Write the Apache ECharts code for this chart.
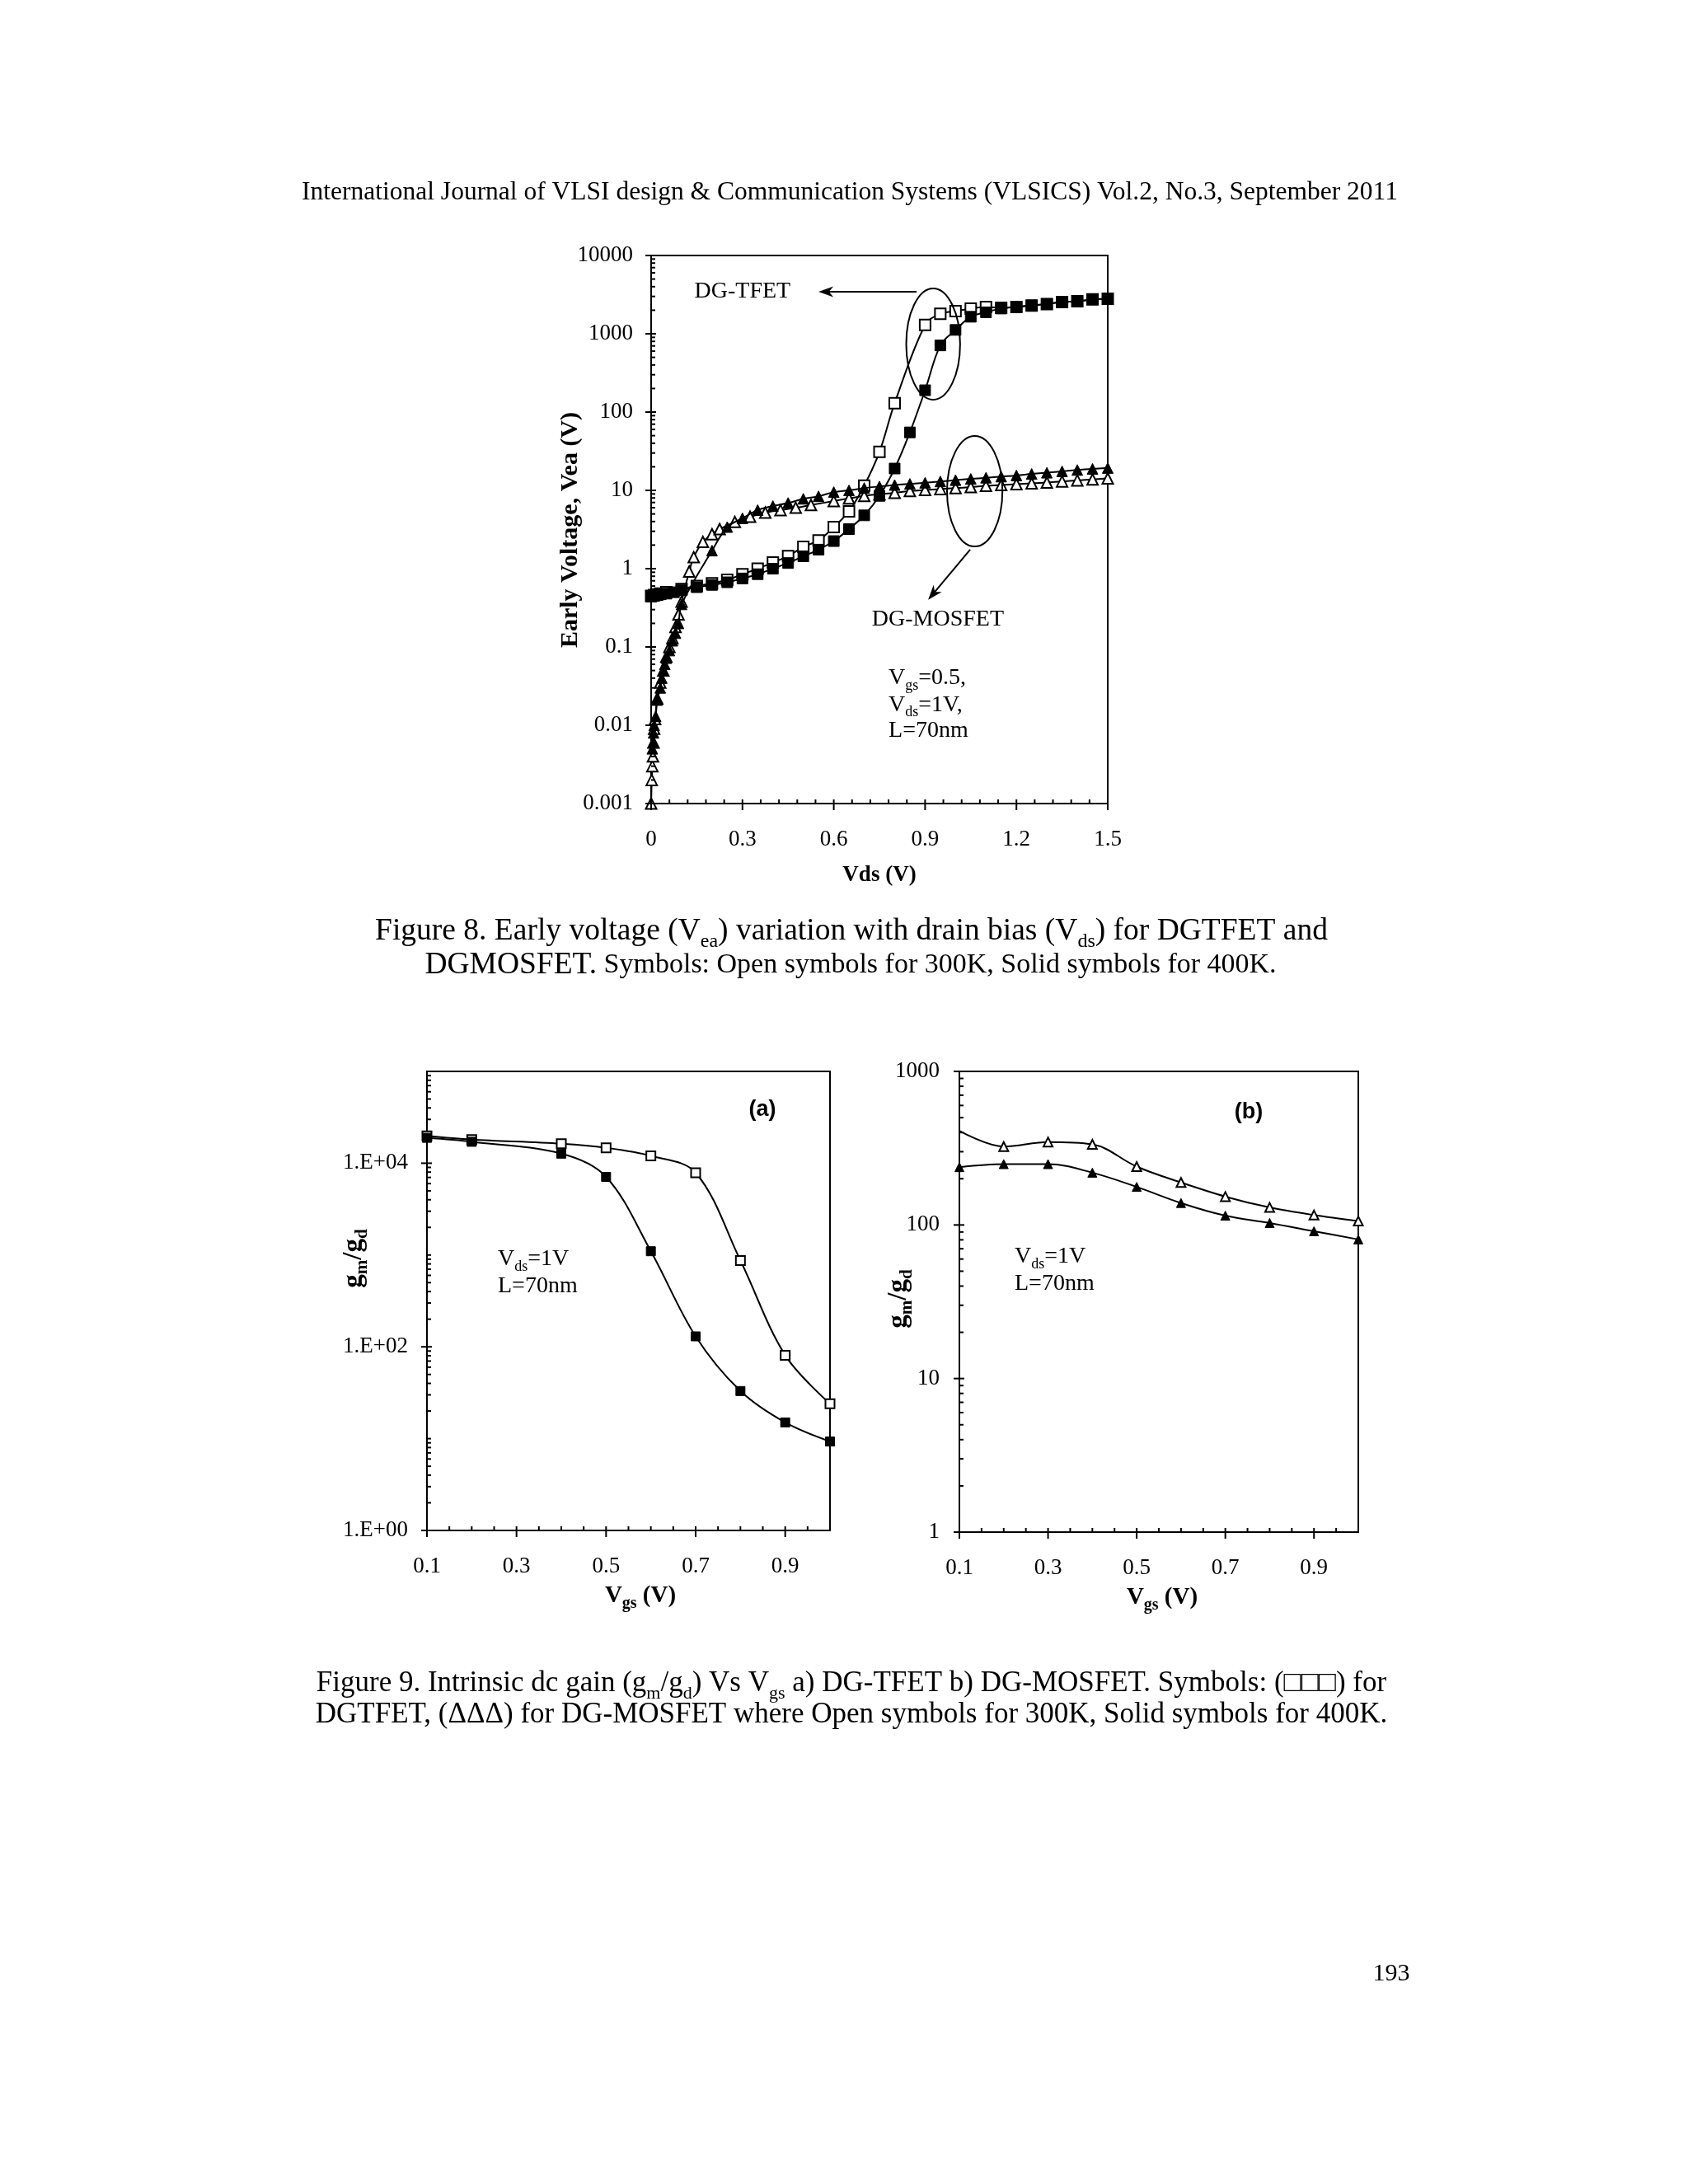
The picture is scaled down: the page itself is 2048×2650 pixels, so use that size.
<!DOCTYPE html>
<html><head><meta charset="utf-8">
<script src="https://cdn.jsdelivr.net/npm/echarts@6/dist/echarts.min.js"></script>
<style>html,body{margin:0;padding:0;background:#fff}#c{width:2048px;height:2650px}</style>
</head><body><div id="c"></div>
<script>
// ---------------- Figure 8 data: [Vds (V), Early voltage Vea (V)] ----------------
const tfet300 = [[0,0.45],[0.01,0.46],[0.02,0.47],[0.03,0.48],[0.05,0.5],[0.1,0.55],[0.15,0.6],[0.2,0.65],[0.25,0.72],[0.3,0.85],[0.35,1.0],[0.4,1.2],[0.45,1.45],[0.5,1.9],[0.55,2.3],[0.6,3.4],[0.65,5.4],[0.7,11.5],[0.75,31],[0.8,130],[0.9,1300],[0.95,1800],[1.0,1950],[1.05,2100],[1.1,2200],[1.15,2150],[1.2,2200],[1.25,2300],[1.3,2400],[1.35,2550],[1.4,2600],[1.45,2750],[1.5,2800]];
const tfet400 = [[0,0.44],[0.01,0.45],[0.02,0.46],[0.03,0.47],[0.05,0.48],[0.075,0.5],[0.1,0.53],[0.15,0.58],[0.2,0.62],[0.25,0.67],[0.3,0.75],[0.35,0.85],[0.4,1.0],[0.45,1.18],[0.5,1.44],[0.55,1.75],[0.6,2.25],[0.65,3.2],[0.7,4.8],[0.75,8.5],[0.8,19],[0.85,55],[0.9,190],[0.95,710],[1.0,1120],[1.05,1650],[1.1,1880],[1.15,2100],[1.2,2200],[1.25,2300],[1.3,2400],[1.35,2550],[1.4,2600],[1.45,2750],[1.5,2800]];
const mos300 = [[0,0.001],[0.002,0.002],[0.004,0.003],[0.006,0.004],[0.008,0.006],[0.01,0.009],[0.013,0.012],[0.02,0.022],[0.03,0.035],[0.04,0.05],[0.05,0.075],[0.06,0.1],[0.07,0.13],[0.08,0.18],[0.09,0.26],[0.1,0.38],[0.125,0.92],[0.14,1.4],[0.17,2.2],[0.2,2.75],[0.225,3.2],[0.275,3.95],[0.325,4.6],[0.375,5.2],[0.425,5.6],[0.475,6.0],[0.525,6.5],[0.6,7.3],[0.65,7.9],[0.7,8.5],[0.75,8.9],[0.8,9.3],[0.85,9.8],[0.9,10.1],[0.95,10.4],[1.0,10.7],[1.05,11.0],[1.1,11.4],[1.15,11.7],[1.2,12.0],[1.25,12.3],[1.3,12.6],[1.35,13.0],[1.4,13.4],[1.45,13.8],[1.5,14.2]];
const mos400 = [[0.004,0.005],[0.006,0.006],[0.008,0.008],[0.01,0.01],[0.015,0.013],[0.02,0.021],[0.03,0.03],[0.035,0.04],[0.04,0.05],[0.045,0.06],[0.05,0.072],[0.06,0.09],[0.07,0.12],[0.08,0.15],[0.09,0.2],[0.1,0.35],[0.2,1.7],[0.25,3.4],[0.3,4.4],[0.35,5.6],[0.4,6.3],[0.45,6.9],[0.5,7.8],[0.55,8.4],[0.6,9.5],[0.65,10],[0.7,10.7],[0.75,11.2],[0.8,11.7],[0.85,12.1],[0.9,12.5],[0.95,13],[1.0,13.5],[1.05,14],[1.1,14.5],[1.15,15],[1.2,15.5],[1.25,16.2],[1.3,16.8],[1.35,17.5],[1.4,18.2],[1.45,18.8],[1.5,19.3]];
const fig8XLabels = ['0','0.3','0.6','0.9','1.2','1.5'];
const fig8YLabels = ['0.001','0.01','0.1','1','10','100','1000','10000'];

// ---------------- Figure 9 data ----------------
const vgsA = [0.1,0.2,0.4,0.5,0.6,0.7,0.8,0.9,1.0];
const gainTfet300 = [19800,18100,16300,14700,12000,7870,870,81,24];
const gainTfet400 = [18900,17100,12700,7100,1100,130,33,15,9.3];
const vgsB = [0.1,0.2,0.3,0.4,0.5,0.6,0.7,0.8,0.9,1.0];
const gainMos300 = [410,324,347,335,240,189,153,130,116,106];
const gainMos400 = [238,249,249,219,177,139,115,103,91,80.5];
const fig9XLabels = ['0.1','0.3','0.5','0.7','0.9'];
const fig9aYLabels = ['1.E+00','','1.E+02','','1.E+04',''];
const fig9bYLabels = ['1','10','100','1000'];

// ---------------- helpers ----------------
const SERIF = 'Liberation Serif';
const SANS = 'Liberation Sans';
const chart = echarts.init(document.getElementById('c'), null, {renderer:'canvas', width:2048, height:2650});

function zip(xs, ys){ return xs.map((x,i)=>[x, ys[i]]); }
function rng(a,b,step){ const o=[]; const n=Math.round((b-a)/step); for(let i=0;i<=n;i++) o.push(+(a+i*step).toFixed(6)); return o; }
function notIn(list, ref){ return list.filter(v=>!ref.some(r=>Math.abs(r-v)<1e-6)); }
function logMinor(e0, e1){ const o=[]; for(let e=e0;e<e1;e++) for(let k=2;k<=9;k++) o.push(+(k*Math.pow(10,e)).toPrecision(6)); return o; }
function pow10(e0,e1){ const o=[]; for(let e=e0;e<=e1;e++) o.push(Math.pow(10,e)); return o; }

const TICK_LEN = [[8,5],[0,5],[7,6],[0,5]]; // [outside, inside] for x-major, x-minor, y-major, y-minor
function tickRender(params, api){
  const p = api.coord([api.value(0), api.value(1)]);
  const k = api.value(2);
  const L = TICK_LEN[k];
  let s;
  if (k < 2) s = {x1:p[0], y1:p[1]+L[0], x2:p[0], y2:p[1]-L[1]};
  else s = {x1:p[0]-L[0], y1:p[1], x2:p[0]+L[1], y2:p[1]};
  return {type:'line', shape:s, style:{stroke:'#000', lineWidth:2}};
}
function tickSeries(g, x0, y0, xMaj, xMin, yMaj, yMin){
  const d = [];
  xMaj.forEach(v=>d.push([v,y0,0]));
  xMin.forEach(v=>d.push([v,y0,1]));
  yMaj.forEach(v=>d.push([x0,v,2]));
  yMin.forEach(v=>d.push([x0,v,3]));
  return {type:'custom', xAxisIndex:g, yAxisIndex:g, data:d, renderItem:tickRender, silent:true, clip:false, z:6, encode:{x:0,y:1}};
}
function lineSeries(g, data, symbol, filled, size, z){
  return {type:'line', xAxisIndex:g, yAxisIndex:g, data, symbol, symbolSize:size, smooth:0.35,
    lineStyle:{color:'#000', width:2},
    itemStyle:{color: filled ? '#000' : '#fff', borderColor:'#000', borderWidth: filled ? 1 : 2},
    z, silent:true, animation:false};
}
const labelStyle = {fontFamily:SERIF, fontSize:27, color:'#000'};
function logLabel(arr, e0){ return v => { const i = Math.round(Math.log10(v)) - e0; return arr[i] !== undefined ? arr[i] : ''; }; }
function xLabel9(v){ const i = Math.round((v-0.1)/0.2); return (v < 0.95 && fig9XLabels[i] !== undefined) ? fig9XLabels[i] : ''; }
function xLabel8(v){ const i = Math.round(v/0.3); return fig8XLabels[i] !== undefined ? fig8XLabels[i] : ''; }

const gridBase = {show:true, borderColor:'#000', borderWidth:2, backgroundColor:'transparent', containLabel:false};
const axLine = {show:true, lineStyle:{color:'#000', width:2}};

const option = {
  backgroundColor:'#fff',
  animation:false,
  grid:[
    Object.assign({left:790, top:310, width:554, height:665}, gridBase),
    Object.assign({left:518, top:1300, width:489, height:557}, gridBase),
    Object.assign({left:1164, top:1300, width:484, height:559}, gridBase)
  ],
  xAxis:[
    {gridIndex:0, type:'value', min:0, max:1.5, interval:0.3, axisLine:axLine, axisTick:{show:false}, splitLine:{show:false},
     axisLabel:Object.assign({margin:30, formatter:xLabel8}, labelStyle)},
    {gridIndex:1, type:'value', min:0.1, max:1.0, interval:0.2, axisLine:axLine, axisTick:{show:false}, splitLine:{show:false},
     axisLabel:Object.assign({margin:30, formatter:xLabel9, showMaxLabel:false}, labelStyle)},
    {gridIndex:2, type:'value', min:0.1, max:1.0, interval:0.2, axisLine:axLine, axisTick:{show:false}, splitLine:{show:false},
     axisLabel:Object.assign({margin:30, formatter:xLabel9, showMaxLabel:false}, labelStyle)}
  ],
  yAxis:[
    {gridIndex:0, type:'log', logBase:10, min:0.001, max:10000, splitNumber:7, axisLine:axLine, axisTick:{show:false}, splitLine:{show:false},
     axisLabel:Object.assign({margin:22, formatter:logLabel(fig8YLabels,-3)}, labelStyle)},
    {gridIndex:1, type:'log', logBase:10, min:1, max:100000, splitNumber:5, axisLine:axLine, axisTick:{show:false}, splitLine:{show:false},
     axisLabel:Object.assign({margin:23, formatter:logLabel(fig9aYLabels,0)}, labelStyle)},
    {gridIndex:2, type:'log', logBase:10, min:1, max:1000, splitNumber:3, axisLine:axLine, axisTick:{show:false}, splitLine:{show:false},
     axisLabel:Object.assign({margin:24, formatter:logLabel(fig9bYLabels,0)}, labelStyle)}
  ],
  series:[
    lineSeries(0, tfet300, 'rect', false, 13, 3),
    lineSeries(0, mos300, 'triangle', false, 13, 3),
    lineSeries(0, tfet400, 'rect', true, 13, 4),
    lineSeries(0, mos400, 'triangle', true, 13, 4),
    lineSeries(1, zip(vgsA, gainTfet300), 'rect', false, 11, 3),
    lineSeries(1, zip(vgsA, gainTfet400), 'rect', true, 11, 4),
    lineSeries(2, zip(vgsB, gainMos300).map((p,i)=> i===0 ? {value:p, symbol:'none'} : p), 'triangle', false, 11, 3),
    lineSeries(2, zip(vgsB, gainMos400), 'triangle', true, 11, 4),
    tickSeries(0, 0, 0.001, rng(0,1.5,0.3), notIn(rng(0,1.5,0.06), rng(0,1.5,0.3)), pow10(-3,4), logMinor(-3,4)),
    tickSeries(1, 0.1, 1, rng(0.1,0.9,0.2), notIn(rng(0.1,1.0,0.05), rng(0.1,0.9,0.2)), [1,100,10000], [10,1000].concat(logMinor(0,5))),
    tickSeries(2, 0.1, 1, rng(0.1,0.9,0.2), notIn(rng(0.1,1.0,0.05), rng(0.1,0.9,0.2)), pow10(0,3), logMinor(0,3))
  ]
};
chart.setOption(option);

// ---------------- text & annotations ----------------
function rich(size, sub, weight, family, mScale){
  family = family || SERIF; weight = weight || 'normal';
  const lh = Math.round(size*1.3);
  return {
    n:{fontSize:size, fontFamily:family, fontWeight:weight, lineHeight:lh, verticalAlign:'middle', fill:'#000'},
    m:{fontSize:Math.round(size*(mScale||0.91)), fontFamily:family, fontWeight:weight, lineHeight:lh, verticalAlign:'middle', fill:'#000'},
    s:{fontSize:sub, fontFamily:family, fontWeight:weight, lineHeight:sub, verticalAlign:'bottom', fill:'#000'}
  };
}
function T(x, y, text, size, sub, opts){
  opts = opts || {};
  return {type:'text', x, y, rotation: opts.rot || 0, z:20, silent:true,
    style:{text, rich:rich(size, sub, opts.weight, opts.family, opts.mScale), align: opts.align || 'center', verticalAlign:'middle', fill:'#000'}};
}
const P = (g, v) => chart.convertToPixel({xAxisIndex:g, yAxisIndex:g}, v);

// annotation anchors in Figure 8 data coordinates
const ell1 = P(0,[0.838,3800]), ell1b = P(0,[1.015,144]);
const ell2 = P(0,[0.972,49.5]), ell2b = P(0,[1.154,1.92]);
const arr1a = P(0,[0.872,3440]), arr1b = P(0,[0.55,3440]);
const arr2a = P(0,[1.048,1.75]), arr2b = P(0,[0.91,0.4]);
const lblTfet = P(0,[0.458,3440]);
const lblMos = P(0,[0.942,0.224]);
const cond1 = P(0,[0.78,0.04]), cond2 = P(0,[0.78,0.018]), cond3 = P(0,[0.78,0.0085]);

function ellipse(a, b){
  return {type:'ellipse', z:15, silent:true, shape:{cx:(a[0]+b[0])/2, cy:(a[1]+b[1])/2, rx:Math.abs(b[0]-a[0])/2, ry:Math.abs(b[1]-a[1])/2},
    style:{fill:'none', stroke:'#000', lineWidth:2}};
}
function arrow(a, b){
  const dx=b[0]-a[0], dy=b[1]-a[1], L=Math.hypot(dx,dy), ux=dx/L, uy=dy/L, px=-uy, py=ux;
  const hl=18, hw=6.5;
  const base=[b[0]-ux*hl, b[1]-uy*hl];
  const notch=[b[0]-ux*hl*0.7, b[1]-uy*hl*0.7];
  return [
    {type:'line', z:15, silent:true, shape:{x1:a[0], y1:a[1], x2:notch[0], y2:notch[1]}, style:{stroke:'#000', lineWidth:2}},
    {type:'polygon', z:15, silent:true, shape:{points:[[b[0],b[1]],[base[0]+px*hw, base[1]+py*hw],[notch[0],notch[1]],[base[0]-px*hw, base[1]-py*hw]]}, style:{fill:'#000'}}
  ];
}

const graphics = [
  T(1031, 234, '{n|International Journal of VLSI design & Communication Systems (VLSICS) Vol.2, No.3, September 2011}', 31.5, 20),
  // Figure 8 axis titles
  T(692, 643, '{n|Early Voltage, Vea (V)}', 30, 20, {weight:'bold', rot:Math.PI/2}),
  T(1067, 1062, '{n|Vds (V)}', 27, 18, {weight:'bold'}),
  // Figure 8 annotations
  ellipse(ell1, ell1b), ellipse(ell2, ell2b),
  ...arrow(arr1a, arr1b), ...arrow(arr2a, arr2b),
  T(lblTfet[0], lblTfet[1], '{n|DG-TFET}', 28, 18, {align:'right'}),
  T(lblMos[0], lblMos[1], '{n|DG-MOSFET}', 28, 18),
  T(cond1[0], cond1[1], '{n|V}{s|gs}{n|=0.5,}', 28, 18, {align:'left'}),
  T(cond2[0], cond2[1], '{n|V}{s|ds}{n|=1V,}', 28, 18, {align:'left'}),
  T(cond3[0], cond3[1], '{n|L=70nm}', 28, 18, {align:'left'}),
  // Figure 8 caption
  T(1033, 1130, '{n|Figure 8. Early voltage (V}{s|ea}{n|) variation with drain bias (V}{s|ds}{n|) for DGTFET and}', 37.5, 24),
  T(1032, 1171, '{n|DGMOSFET.}{m| Symbols: Open symbols for 300K, Solid symbols for 400K.}', 37.5, 24, {mScale:0.9}),
  // Figure 9 titles & labels
  T(925, 1347, '{n|(a)}', 27, 18, {weight:'bold', family:SANS}),
  T(1515, 1350, '{n|(b)}', 27, 18, {weight:'bold', family:SANS}),
  T(604, 1528, '{n|V}{s|ds}{n|=1V}', 28, 18, {align:'left'}),
  T(604, 1561, '{n|L=70nm}', 28, 18, {align:'left'}),
  T(1231, 1525, '{n|V}{s|ds}{n|=1V}', 28, 18, {align:'left'}),
  T(1231, 1558, '{n|L=70nm}', 28, 18, {align:'left'}),
  T(777, 1937, '{n|V}{s|gs}{n| (V)}', 29, 20, {weight:'bold'}),
  T(1410, 1939, '{n|V}{s|gs}{n| (V)}', 29, 20, {weight:'bold'}),
  T(429, 1527, '{n|g}{s|m}{n|/g}{s|d}', 33, 21, {weight:'bold', rot:Math.PI/2}),
  T(1090, 1576, '{n|g}{s|m}{n|/g}{s|d}', 33, 21, {weight:'bold', rot:Math.PI/2}),
  // Figure 9 caption
  T(1033, 2043, '{n|Figure 9. Intrinsic dc gain (g}{s|m}{n|/g}{s|d}{n|) Vs V}{s|gs}{n| a) DG-TFET b) DG-MOSFET. Symbols: (\u25A1\u25A1\u25A1) for}', 35, 22),
  T(1033, 2081, '{n|DGTFET, (\u0394\u0394\u0394) for DG-MOSFET where Open symbols for 300K, Solid symbols for 400K.}', 35, 22),
  // page number
  T(1688, 2395, '{n|193}', 30, 20)
];
chart.setOption({graphic: graphics});
</script></body></html>
